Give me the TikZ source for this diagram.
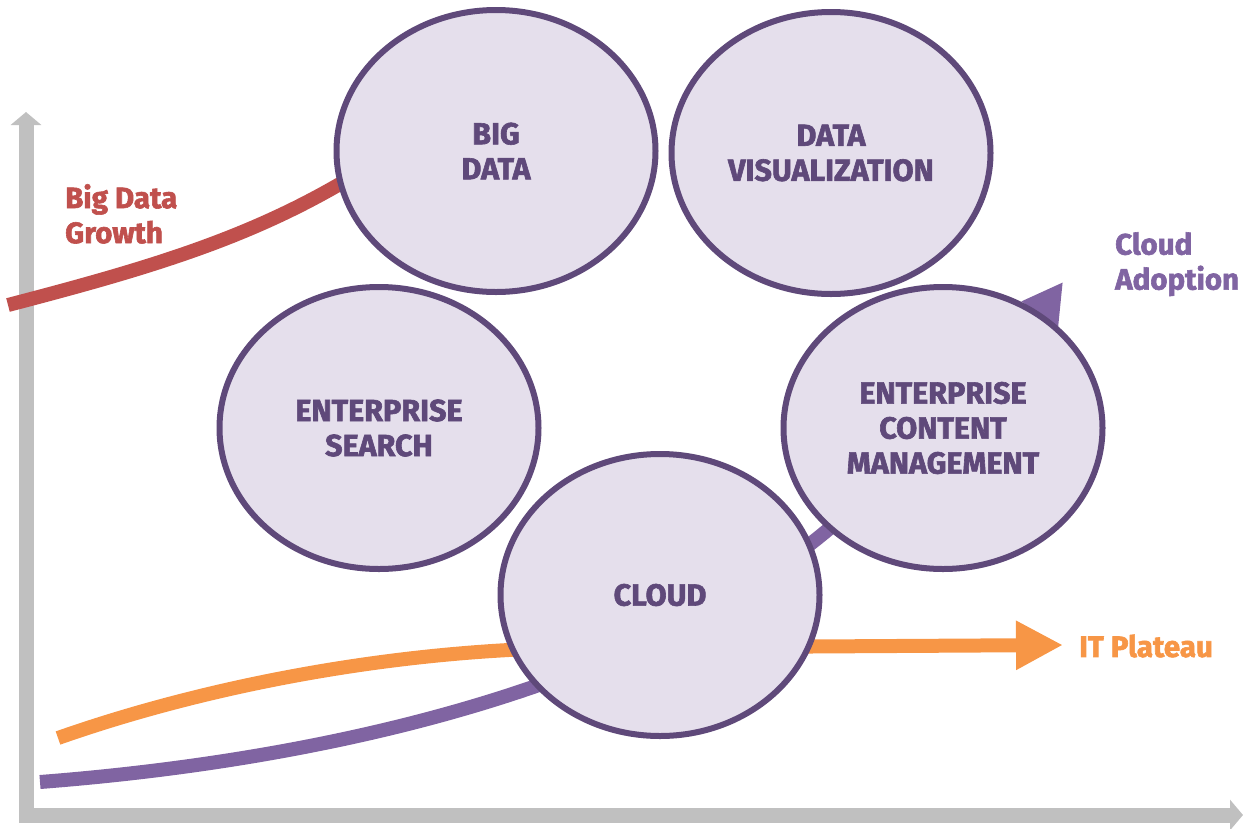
\documentclass[tikz,border=0pt]{standalone}
\usepackage{fontspec}
\setmainfont{Fira Sans}[BoldFeatures={FakeBold=2}]
\usetikzlibrary{shapes.geometric,arrows.meta}
\definecolor{axisgray}{HTML}{C0C0C0}
\definecolor{bubblefill}{HTML}{E5DFEC}
\definecolor{bubbleline}{HTML}{5F497A}
\definecolor{growthred}{HTML}{C0504D}
\definecolor{plateauorange}{HTML}{F79646}
\definecolor{adoptpurple}{HTML}{8064A2}
\tikzset{
  bubble/.style={ellipse, draw=bubbleline, fill=bubblefill, line width=6pt,
    minimum width=319pt, minimum height=282pt, inner sep=0pt,
    text=bubbleline, align=center, font=\fontsize{30.5}{35}\selectfont\bfseries},
  axisline/.style={axisgray, line width=15pt, -{Triangle[length=13pt,width=30pt]}},
  trend/.style={line width=14pt},
  label/.style={align=left, anchor=north west, inner sep=0pt, font=\fontsize{29.5}{35}\selectfont\bfseries}
}
\begin{document}
\begin{tikzpicture}[x=1pt,y=-1pt]
\useasboundingbox (0,0) rectangle (1243,828);
% axes
\coordinate (origin) at (26,815);
\coordinate (ytip) at (26,112);
\coordinate (xtip) at (1243,815);
\draw[axisline] (26,822) -- (ytip);
\draw[axisline] (19,815) -- (xtip);
% trend curves
\coordinate (g0) at (8,305);
\coordinate (g1) at (350,178);
\draw[trend, growthred] (g0) .. controls (150,268) and (250,238) .. (g1);
\coordinate (p0) at (58,738);
\coordinate (p1) at (560,648);
\coordinate (p2) at (1063,645);
\draw[trend, plateauorange, -{Triangle[length=47pt,width=46pt]}] (p0) .. controls (200,688) and (380,652) .. (p1) -- (p2);
\coordinate (a0) at (40,782);
\coordinate (a1) at (830,528);
\coordinate (a2) at (1063,282);
\draw[trend, adoptpurple, -{Triangle[length=40pt,width=42pt]}] (a0) .. controls (350,758) and (650,680) .. (a1) .. controls (930,440) and (1000,370) .. (a2);
% bubbles
\node[bubble] (bigdata) at (496,151) {BIG\\DATA};
\node[bubble] (dataviz) at (831,153) {DATA\\VISUALIZATION};
\node[bubble] (search) at (379,428) {ENTERPRISE\\SEARCH};
\node[bubble] (ecm) at (943,428) {ENTERPRISE\\CONTENT\\MANAGEMENT};
\node[bubble] (cloud) at (660,595) {CLOUD};
% labels
\node[label, text=growthred] (lgrowth) at (65,184) {Big Data\\Growth};
\node[label, text=adoptpurple] (ladopt) at (1115,232) {Cloud\\Adoption};
\node[label, text=plateauorange, anchor=west] (lplateau) at (1079,646) {IT Plateau};
\end{tikzpicture}
\end{document}
